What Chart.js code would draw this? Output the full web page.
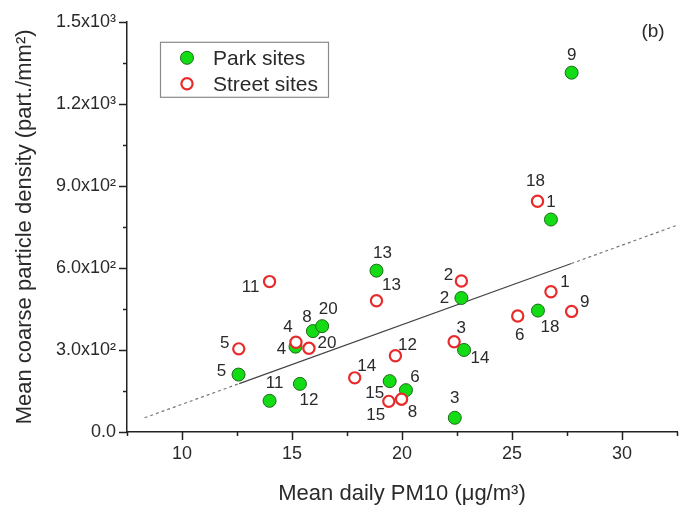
<!DOCTYPE html>
<html>
<head>
<meta charset="utf-8">
<script src="https://cdn.jsdelivr.net/npm/chart.js@4.4.1/dist/chart.umd.min.js"></script>
<style>
  html, body { margin: 0; padding: 0; background: #fff; }
  #wrap { width: 688px; height: 505px; position: relative; }
</style>
</head>
<body>
<div id="wrap"><canvas id="pm10Chart" width="688" height="505"></canvas></div>
<script>
// site numbers and values
var parkIds      = [1, 2, 3, 4, 5, 6, 8, 9, 11, 12, 13, 14, 15, 18, 20];
var parkPM10     = [26.77, 22.7, 22.4, 15.16, 12.57, 20.18, 15.95, 27.71, 13.98, 15.36, 18.84, 22.82, 19.44, 26.18, 16.37];
var parkDensity  = [777, 490, 52, 312, 210, 153, 369, 1314, 114, 176, 590, 300, 186, 444, 387];

var streetIds     = [1, 2, 3, 4, 5, 6, 8, 9, 11, 12, 13, 14, 15, 18, 20];
var streetPM10    = [26.77, 22.7, 22.37, 15.18, 12.58, 25.26, 19.98, 27.71, 13.98, 19.7, 18.84, 17.85, 19.4, 26.16, 15.77];
var streetDensity = [513, 552, 330, 328, 304, 424, 120, 441, 550, 279, 480, 198, 112, 844, 306];

// regression line as drawn (dashed outside the data range)
var fitPM10    = [8.3, 12.6, 27.7, 32.5];
var fitDensity = [52, 177, 616, 756];

var seriesNames = ['Park sites', 'Street sites'];
var panelTag = '(b)';

// where each site number sits next to its marker (px)
var parkLabelPos = [[0,-17],[-17,0],[0,-19],[-14,3],[-17,-3],[9,-13],[-6,-14],[0,-17],[5,-18],[9,16],[6,-17],[16,8],[-15,12],[12,17],[6,-17]];
var streetLabelPos = [[14,-9],[-13,-6],[7,-13],[-8,-15],[-14,-6],[2,19],[11,13],[13,-9],[-19,6],[12,-10],[15,-15],[12,-12],[-13,14],[-2,-20],[18,-5]];

(function() {
  var textColor = '#2a2a2a';
  var fontFamily = "'Liberation Sans', Arial, sans-serif";
  Chart.defaults.font.family = fontFamily;
  Chart.defaults.color = textColor;

  function toPoints(xs, ys) {
    return xs.map(function(x, i) { return { x: x, y: ys[i] }; });
  }

  var sup = { 2: '\u00B2', 3: '\u00B3' };
  function sciLabel(v) {
    if (v === 0) return '0.0';
    var e = Math.floor(Math.log10(v) + 1e-9);
    return (v / Math.pow(10, e)).toFixed(1) + 'x10' + sup[e];
  }

  // point numbers
  var siteLabels = {
    id: 'siteLabels',
    afterDatasetsDraw: function(chart) {
      var ctx = chart.ctx;
      ctx.save();
      ctx.font = '17px ' + fontFamily;
      ctx.fillStyle = textColor;
      ctx.textAlign = 'center';
      ctx.textBaseline = 'middle';
      [[0, parkIds, parkLabelPos], [1, streetIds, streetLabelPos]].forEach(function(s) {
        var meta = chart.getDatasetMeta(s[0]);
        meta.data.forEach(function(pt, i) {
          ctx.fillText(String(s[1][i]), pt.x + s[2][i][0], pt.y + s[2][i][1]);
        });
      });
      ctx.restore();
    }
  };

  // outward tick marks: long for labelled, short for minor
  var axisTicks = {
    id: 'axisTicks',
    afterDraw: function(chart) {
      var ctx = chart.ctx, area = chart.chartArea;
      var xs = chart.scales.x, ys = chart.scales.y;
      ctx.save();
      ctx.strokeStyle = '#222';
      ctx.lineWidth = 1.5;
      ctx.beginPath();
      xs.ticks.forEach(function(t) {
        var px = Math.round(xs.getPixelForValue(t.value)) + 0.5;
        var len = Math.abs(t.value % 5) < 1e-6 ? 8 : 4;
        ctx.moveTo(px, area.bottom);
        ctx.lineTo(px, area.bottom + len);
      });
      ys.ticks.forEach(function(t) {
        var py = Math.round(ys.getPixelForValue(t.value)) + 0.5;
        var len = t.value % 300 === 0 ? 8 : 4;
        ctx.moveTo(area.left, py);
        ctx.lineTo(area.left - len, py);
      });
      ctx.stroke();
      ctx.restore();
    }
  };

  // boxed legend inside the plot and the panel tag
  var insetLegend = {
    id: 'insetLegend',
    afterDraw: function(chart) {
      var ctx = chart.ctx, area = chart.chartArea;
      var bx = area.left + 33, by = area.top + 20, bw = 168, bh = 55;
      ctx.save();
      ctx.strokeStyle = '#8a8a8a';
      ctx.lineWidth = 1.2;
      ctx.strokeRect(bx + 0.5, by + 0.5, bw, bh);
      ctx.font = '21px ' + fontFamily;
      ctx.fillStyle = textColor;
      ctx.textBaseline = 'middle';
      ctx.textAlign = 'left';
      [0, 1].forEach(function(i) {
        var ds = chart.data.datasets[i];
        var cy = by + 16 + i * 26;
        ctx.save();
        ctx.fillStyle = ds.backgroundColor;
        ctx.strokeStyle = ds.borderColor;
        ctx.lineWidth = ds.borderWidth;
        Chart.helpers.drawPoint(ctx, { pointStyle: 'circle', radius: ds.pointRadius, borderWidth: ds.borderWidth }, bx + 27, cy);
        ctx.restore();
        ctx.fillText(seriesNames[i], bx + 53, cy + 1);
      });
      ctx.font = '19px ' + fontFamily;
      ctx.textAlign = 'center';
      ctx.fillText(panelTag, 653, 32);
      ctx.restore();
    }
  };

  new Chart(document.getElementById('pm10Chart'), {
    type: 'scatter',
    data: {
      datasets: [{
        label: seriesNames[0],
        data: toPoints(parkPM10, parkDensity),
        backgroundColor: '#14dc14',
        borderColor: '#1a6a1a',
        borderWidth: 1,
        pointRadius: 6.5,
        pointHoverRadius: 6.5,
        order: 2
      }, {
        label: seriesNames[1],
        data: toPoints(streetPM10, streetDensity),
        backgroundColor: '#ffffff',
        borderColor: '#e82a2a',
        borderWidth: 2.2,
        pointRadius: 5.6,
        pointHoverRadius: 5.6,
        order: 1
      }, {
        label: 'fit',
        data: toPoints(fitPM10, fitDensity),
        showLine: true,
        pointRadius: 0,
        borderColor: '#444',
        borderWidth: 1.2,
        segment: {
          borderDash: function(ctx) { return ctx.p0DataIndex === 1 ? undefined : [3, 3]; },
          borderColor: function(ctx) { return ctx.p0DataIndex === 1 ? '#444' : '#777'; }
        },
        order: 3
      }]
    },
    options: {
      responsive: false,
      animation: false,
      layout: { padding: { top: 15, right: 0, bottom: 0, left: 0 } },
      plugins: { legend: { display: false }, tooltip: { enabled: false } },
      scales: {
        x: {
          type: 'linear',
          min: 7.5,
          max: 32.5,
          grid: { display: true, drawOnChartArea: false, drawTicks: false },
          border: { display: true, color: '#222', width: 1.5 },
          ticks: {
            stepSize: 2.5,
            padding: 11,
            font: { size: 18 },
            color: textColor,
            maxRotation: 0,
            autoSkip: false,
            callback: function(v) { return Math.abs(v % 5) < 1e-6 ? String(v) : ''; }
          },
          title: {
            display: true,
            text: 'Mean daily PM10 (\u03BCg/m\u00B3)',
            font: { size: 22, lineHeight: 1 },
            color: textColor,
            padding: { top: 10, bottom: 0 }
          },
          afterFit: function(scale) { scale.height = 73; }
        },
        y: {
          min: 0,
          max: 1500,
          grid: { display: true, drawOnChartArea: false, drawTicks: false },
          border: { display: true, color: '#222', width: 1.5 },
          ticks: {
            stepSize: 150,
            padding: 11,
            font: { size: 18 },
            color: textColor,
            autoSkip: false,
            callback: function(v) { return v % 300 === 0 ? sciLabel(v) : ''; }
          },
          title: {
            display: true,
            text: 'Mean coarse particle density (part./mm\u00B2)',
            font: { size: 22 },
            color: textColor,
            padding: { top: 12, bottom: 0 }
          },
          afterFit: function(scale) { scale.width = 127; }
        }
      }
    },
    plugins: [siteLabels, axisTicks, insetLegend]
  });
})();
</script>
</body>
</html>
